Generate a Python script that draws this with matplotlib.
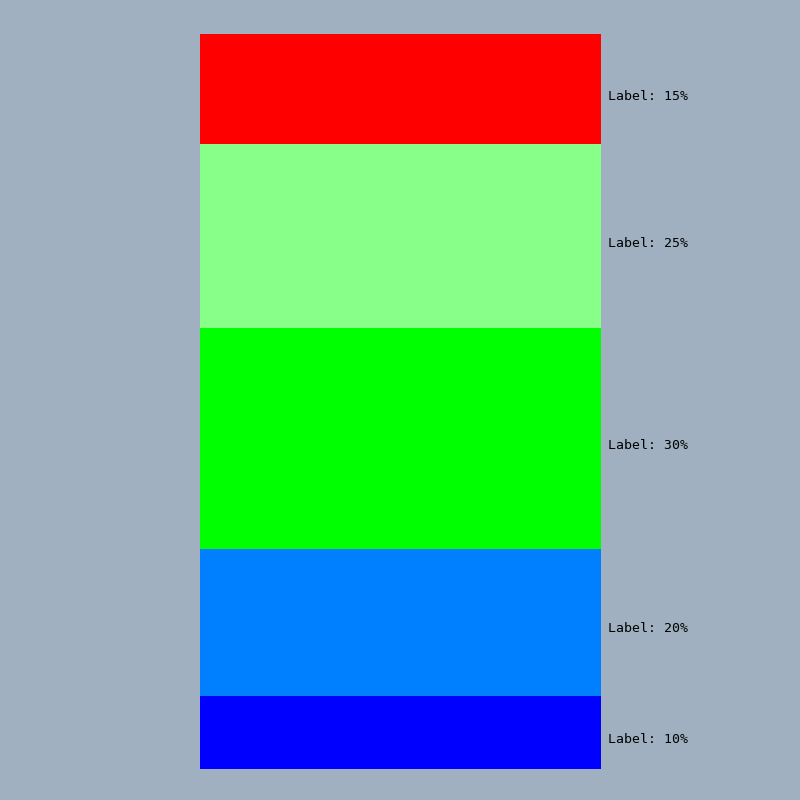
import matplotlib
matplotlib.use("Agg")
import matplotlib.pyplot as plt
import matplotlib.transforms as mtransforms

# segments from bottom to top
labels = ["Label: 10%", "Label: 20%", "Label: 30%", "Label: 25%", "Label: 15%"]
values = [10, 20, 30, 25, 15]
colors = ["#0000ff", "#0080ff", "#00ff00", "#88ff88", "#ff0000"]

bg = "#a0b0c0"
fig = plt.figure(figsize=(8, 8), dpi=100, facecolor=bg)
ax = fig.add_axes([200 / 800, 31 / 800, 401 / 800, 735 / 800])
ax.set_facecolor(bg)

bottom = 0
trans = mtransforms.blended_transform_factory(ax.transAxes, ax.transData)
# labels sit a few pixels below the segment middle
trans = trans + mtransforms.ScaledTranslation(0, -7 / 100, fig.dpi_scale_trans)
for lab, val, col in zip(labels, values, colors):
    ax.bar(0, val, width=1, bottom=bottom, color=col, linewidth=0)
    ax.text(1 + 7 / 401, bottom + val / 2, lab, transform=trans,
            ha="left", va="center", family="DejaVu Sans Mono",
            fontsize=9.5, color="black")
    bottom += val

ax.set_xlim(-0.5, 0.5)
ax.set_ylim(0, sum(values))
ax.axis("off")

fig.savefig("out.png", dpi=100, facecolor=bg)
